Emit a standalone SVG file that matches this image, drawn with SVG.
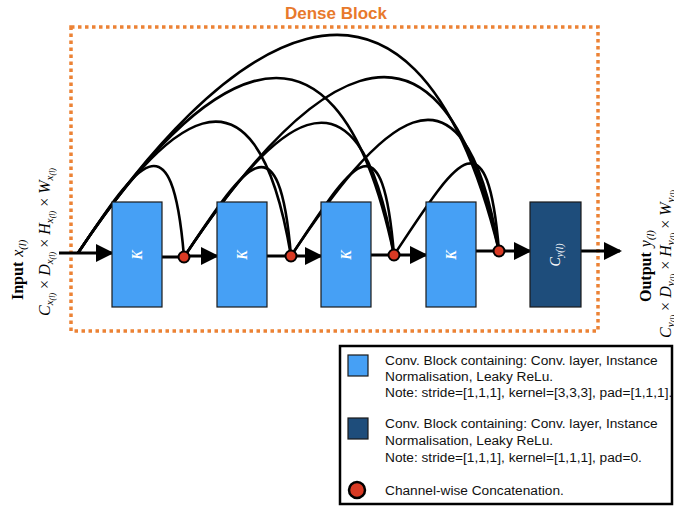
<svg xmlns="http://www.w3.org/2000/svg" width="674" height="506" viewBox="0 0 674 506">
  <defs>
    <style>
      .frame { fill: none; stroke: #ec8235; stroke-width: 3.5; stroke-dasharray: 3.5 3.5; }
      .title { font-family: "Liberation Sans", Arial, sans-serif; font-weight: bold; font-size: 17px; fill: #e8792b; }
      .conv { fill: #46a0f5; stroke: #1a1a1a; stroke-width: 1.2; }
      .proj { fill: #1e4d7b; stroke: #1a1a1a; stroke-width: 1.2; }
      .cat { fill: #d93a24; stroke: #000; stroke-width: 2; }
      .flow { fill: none; stroke: #000; stroke-width: 3; }
      .skip { fill: none; stroke: #000; stroke-width: 2.6; }
      .blabel { font-family: "Liberation Serif", "Times New Roman", serif; font-style: italic; font-weight: bold; font-size: 14px; fill: #fff; }
      .math { font-family: "Liberation Serif", "Times New Roman", serif; font-size: 16px; fill: #000; }
      .legend { font-family: "Liberation Sans", Arial, sans-serif; font-size: 13.7px; fill: #111; }
    </style>
    <marker id="head" markerUnits="userSpaceOnUse" markerWidth="18" markerHeight="18" refX="16" refY="9" orient="auto">
      <path d="M0,0 L18,9 L0,18 z" fill="#000"/>
    </marker>
  </defs>

  <!-- dense block frame and title -->
  <rect class="frame" x="71" y="27" width="527" height="304"/>
  <text class="title" x="336" y="19" text-anchor="middle">Dense Block</text>

  <!-- connectors: main flow and dense skip links -->
  <g id="connectors">
    <path class="flow" d="M59,253 H112" marker-end="url(#head)"/>
    <path class="flow" d="M162,257 H184"/>
    <path class="flow" d="M184,256 H217" marker-end="url(#head)"/>
    <path class="flow" d="M267,256 H291"/>
    <path class="flow" d="M291,256 H321" marker-end="url(#head)"/>
    <path class="flow" d="M371,255 H394"/>
    <path class="flow" d="M394,255 H426" marker-end="url(#head)"/>
    <path class="flow" d="M476,251 H499"/>
    <path class="flow" d="M499,251 H530" marker-end="url(#head)"/>
    <path class="flow" d="M581,251 H620" marker-end="url(#head)"/>

    <path class="skip" d="M78,253 C138,163 172,112 184,257"/>
    <path class="skip" d="M184,257 C244,167 279,111 291,256"/>
    <path class="skip" d="M291,256 C351,166 382,110 394,255"/>
    <path class="skip" d="M394,255 C454,165 487,106 499,251"/>
    <path class="skip" d="M78,253 C163,125 254,35 291,256"/>
    <path class="skip" d="M184,257 C269,129 357,34 394,255"/>
    <path class="skip" d="M291,256 C376,128 462,30 499,251"/>
    <path class="skip" d="M78,253 C188,88 332,-41 394,255"/>
    <path class="skip" d="M184,257 C294,92 437,-45 499,251"/>
    <path class="skip" d="M78,253 C215,47 410,-111 499,251"/>
  </g>

  <!-- conv blocks -->
  <g id="conv1">
    <rect class="conv" x="112" y="202" width="50" height="105"/>
    <text class="blabel" transform="translate(142,255) rotate(-90)" text-anchor="middle">K</text>
  </g>
  <g id="conv2">
    <rect class="conv" x="217" y="202" width="50" height="105"/>
    <text class="blabel" transform="translate(247,255) rotate(-90)" text-anchor="middle">K</text>
  </g>
  <g id="conv3">
    <rect class="conv" x="321" y="202" width="50" height="105"/>
    <text class="blabel" transform="translate(351,255) rotate(-90)" text-anchor="middle">K</text>
  </g>
  <g id="conv4">
    <rect class="conv" x="426" y="202" width="50" height="105"/>
    <text class="blabel" transform="translate(456,255) rotate(-90)" text-anchor="middle">K</text>
  </g>
  <g id="conv-out">
    <rect class="proj" x="530" y="202" width="51" height="105"/>
    <text class="blabel" style="font-weight:normal" transform="translate(560,255) rotate(-90)" text-anchor="middle">C<tspan font-size="10" dy="3">y(l)</tspan></text>
  </g>

  <!-- concatenation points -->
  <g id="cat1"><circle class="cat" cx="184" cy="257" r="5.5"/></g>
  <g id="cat2"><circle class="cat" cx="291" cy="256" r="5.5"/></g>
  <g id="cat3"><circle class="cat" cx="394" cy="255" r="5.5"/></g>
  <g id="cat4"><circle class="cat" cx="499" cy="251" r="5.5"/></g>

  <!-- input description -->
  <g id="input">
    <text class="math" transform="translate(23,300) rotate(-90)"><tspan font-weight="bold">Input</tspan><tspan font-style="italic" dx="5">x</tspan><tspan font-style="italic" font-size="10.5" dy="3">(l)</tspan></text>
    <text class="math" font-style="italic" transform="translate(50,316) rotate(-90)">C<tspan font-size="11" dy="3">x</tspan><tspan font-size="8" dy="2">(l)</tspan><tspan font-style="normal" dy="-5"> × </tspan>D<tspan font-size="11" dy="3">x</tspan><tspan font-size="8" dy="2">(l)</tspan><tspan font-style="normal" dy="-5"> × </tspan>H<tspan font-size="11" dy="3">x</tspan><tspan font-size="8" dy="2">(l)</tspan><tspan font-style="normal" dy="-5"> × </tspan>W<tspan font-size="11" dy="3">x</tspan><tspan font-size="8" dy="2">(l)</tspan></text>
  </g>

  <!-- output description -->
  <g id="output">
    <text class="math" transform="translate(651,302) rotate(-90)"><tspan font-weight="bold">Output</tspan><tspan font-style="italic" dx="5">y</tspan><tspan font-style="italic" font-size="10.5" dy="3">(l)</tspan></text>
    <text class="math" font-style="italic" transform="translate(671,338) rotate(-90)">C<tspan font-size="11" dy="3">y</tspan><tspan font-size="8" dy="2">(l)</tspan><tspan font-style="normal" dy="-5"> × </tspan>D<tspan font-size="11" dy="3">y</tspan><tspan font-size="8" dy="2">(l)</tspan><tspan font-style="normal" dy="-5"> × </tspan>H<tspan font-size="11" dy="3">y</tspan><tspan font-size="8" dy="2">(l)</tspan><tspan font-style="normal" dy="-5"> × </tspan>W<tspan font-size="11" dy="3">y</tspan><tspan font-size="8" dy="2">(l)</tspan></text>
  </g>

  <!-- legend -->
  <g id="legend">
    <rect x="340" y="346" width="332" height="158" fill="#fff" stroke="#000" stroke-width="2.5"/>
    <rect class="conv" x="348" y="355" width="20" height="21"/>
    <text class="legend" x="385" y="365">Conv. Block containing: Conv. layer, Instance</text>
    <text class="legend" x="385" y="381">Normalisation, Leaky ReLu.</text>
    <text class="legend" x="385" y="397">Note: stride=[1,1,1], kernel=[3,3,3], pad=[1,1,1].</text>
    <rect class="proj" x="348" y="418" width="20" height="21"/>
    <text class="legend" x="385" y="428">Conv. Block containing:  Conv. layer, Instance</text>
    <text class="legend" x="385" y="445">Normalisation, Leaky ReLu.</text>
    <text class="legend" x="385" y="462">Note: stride=[1,1,1], kernel=[1,1,1], pad=0.</text>
    <circle cx="357" cy="490" r="8" fill="#d93a24" stroke="#000" stroke-width="2.5"/>
    <text class="legend" x="385" y="495">Channel-wise Concatenation.</text>
  </g>
</svg>
